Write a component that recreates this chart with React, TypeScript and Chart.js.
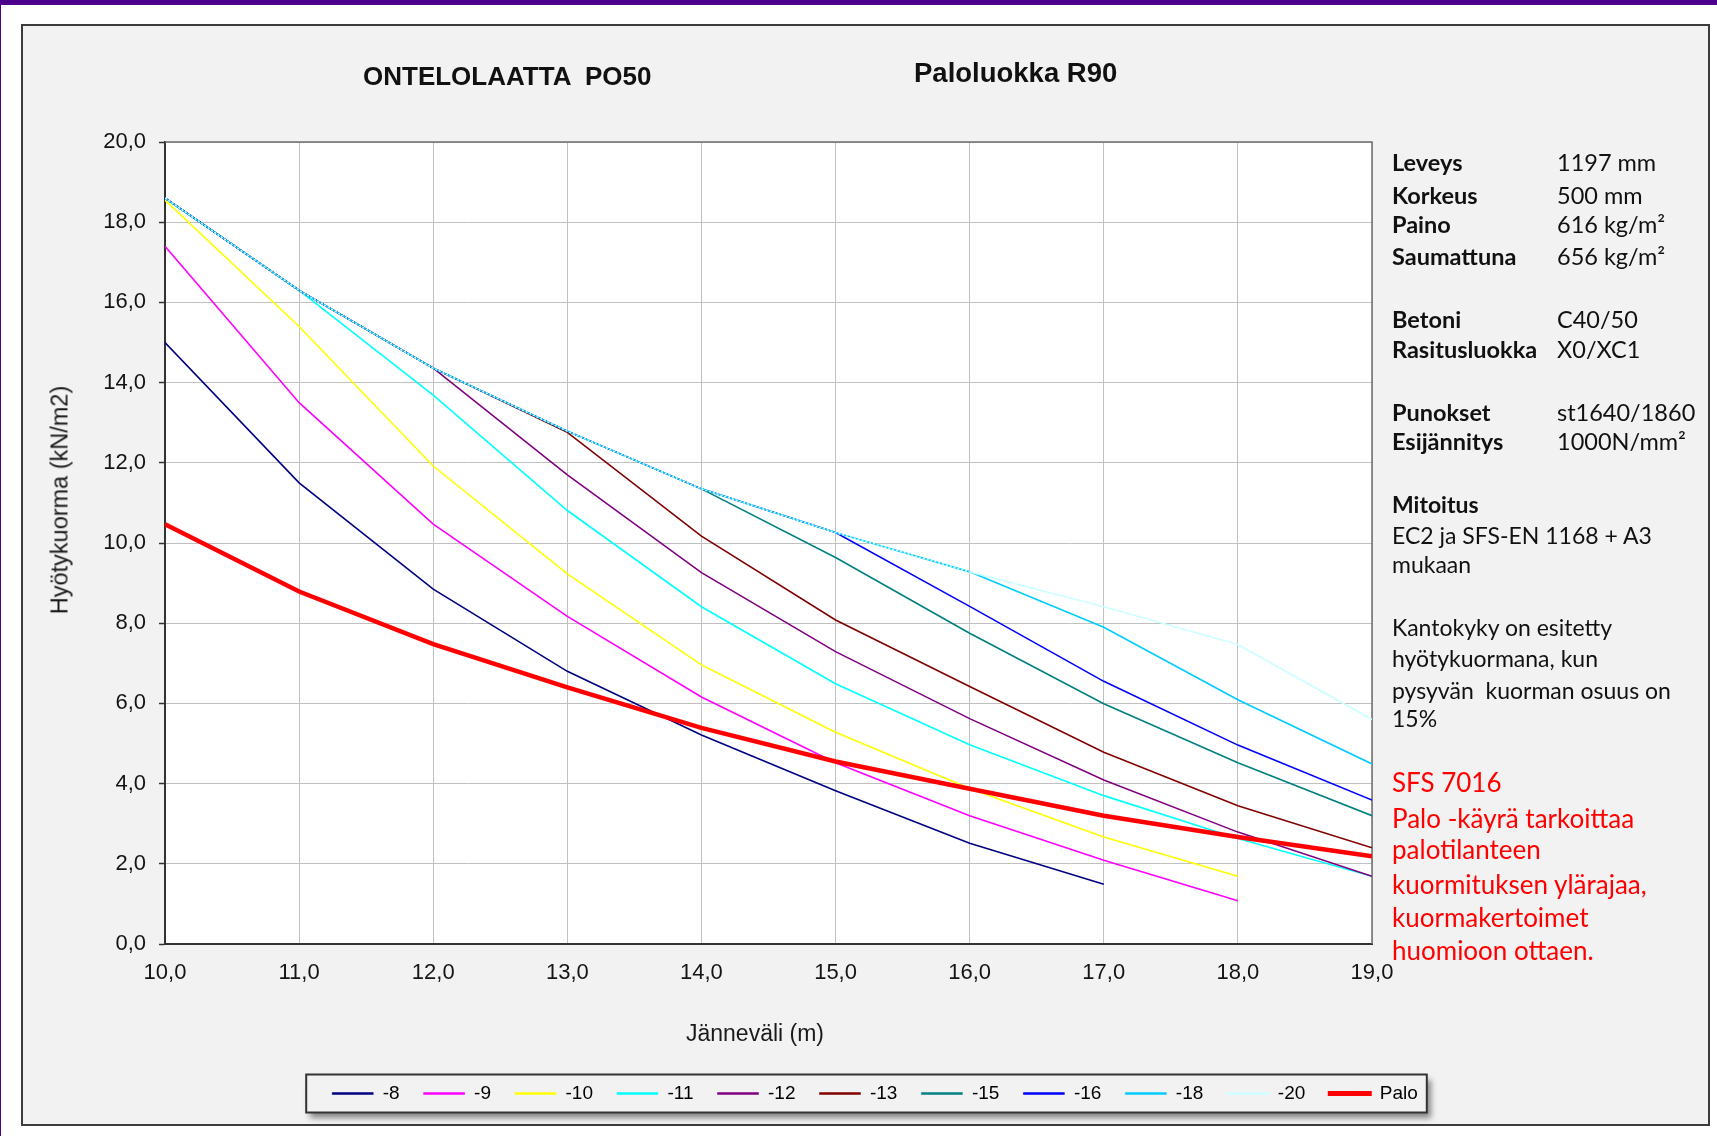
import React, { useEffect, useRef } from "react";
import { Chart, registerables } from "chart.js";

Chart.register(...registerables);

// ---- data ----
const spans = [10, 11, 12, 13, 14, 15, 16, 17, 18, 19];
const seriesLabels = ["-8", "-9", "-10", "-11", "-12", "-13", "-15", "-16", "-18", "-20", "Palo"];
const s8 = [15.0, 11.5, 8.85, 6.8, 5.21, 3.82, 2.51, 1.49, null, null];
const s9 = [17.4, 13.5, 10.47, 8.17, 6.16, 4.52, 3.2, 2.09, 1.08, null];
const s10 = [18.55, 15.4, 11.92, 9.23, 6.96, 5.28, 3.88, 2.67, 1.69, null];
const s11 = [18.6, 16.3, 13.69, 10.81, 8.41, 6.49, 4.97, 3.7, 2.63, 1.69];
const s12 = [18.6, 16.3, 14.36, 11.7, 9.26, 7.29, 5.62, 4.09, 2.79, 1.69];
const s13 = [18.6, 16.3, 14.36, 12.76, 10.17, 8.08, 6.42, 4.78, 3.45, 2.4];
const s15 = [18.6, 16.3, 14.36, 12.79, 11.35, 9.64, 7.75, 5.99, 4.52, 3.2];
const s16 = [18.6, 16.3, 14.36, 12.79, 11.35, 10.26, 8.42, 6.55, 4.96, 3.59];
const s18 = [18.6, 16.3, 14.36, 12.79, 11.35, 10.26, 9.28, 7.9, 6.09, 4.49];
const s20 = [18.6, 16.3, 14.36, 12.79, 11.35, 10.26, 9.28, 8.41, 7.47, 5.6];
const palo = [10.47, 8.79, 7.48, 6.4, 5.39, 4.55, 3.87, 3.2, 2.67, 2.19];
const seriesValues = [s8, s9, s10, s11, s12, s13, s15, s16, s18, s20, palo];
const seriesColors = [
  "#000080", "#ff00ff", "#ffff00", "#00ffff", "#800080", "#800000",
  "#008080", "#0000ff", "#00ccff", "#ccffff", "#ff0000",
];
const yMin = 0, yMax = 20, yStep = 2;
const xMin = 10, xMax = 19, xStep = 1;

const titleLeft = "ONTELOLAATTA  PO50";
const titleRight = "Paloluokka R90";
const xTitle = "Jänneväli (m)";
const yTitle = "Hyötykuorma (kN/m2)";

const specRows: [string, string][] = [
  ["Leveys", "1197 mm"],
  ["Korkeus", "500 mm"],
  ["Paino", "616 kg/m²"],
  ["Saumattuna", "656 kg/m²"],
  ["Betoni", "C40/50"],
  ["Rasitusluokka", "X0/XC1"],
  ["Punokset", "st1640/1860"],
  ["Esijännitys", "1000N/mm²"],
];
const noteLines = [
  "Mitoitus",
  "EC2 ja SFS-EN 1168 + A3",
  "mukaan",
  "Kantokyky on esitetty",
  "hyötykuormana, kun",
  "pysyvän  kuorman osuus on",
  "15%",
];
const redLines = [
  "SFS 7016",
  "Palo -käyrä tarkoittaa",
  "palotilanteen",
  "kuormituksen ylärajaa,",
  "kuormakertoimet",
  "huomioon ottaen.",
];

// ---- layout (pixels) ----
const W = 1717, H = 1136;
const PLOT_TOP = 142, PLOT_LEFT = 165, PLOT_RIGHT = 1372, PLOT_BOTTOM = 944;
const PAD_LEFT = 33, PAD_BOTTOM = 23;
const LEGEND_FONT = 19, LEGEND_PAD = 24;
const specY = [163, 196, 225, 257, 320, 350, 413, 442];
const noteY = [505, 536, 565, 628, 659, 691, 719];
const redY = [783, 819, 850, 885, 918, 951];

const fmt = (v: number) => v.toFixed(1).replace(".", ",");

const decorPlugin = {
  id: "decor",
  beforeDraw(chart: any) {
    const { ctx, chartArea: a } = chart;
    ctx.save();
    ctx.fillStyle = "#ffffff";
    ctx.fillRect(a.left, a.top, a.right - a.left, a.bottom - a.top);
    const lg = chart.legend;
    if (lg && lg.lineWidths && lg.lineWidths.length) {
      const lw = lg.lineWidths[0];
      const start = (lg.left + LEGEND_PAD + lg.right - lw) / 2;
      const end = start + lw - LEGEND_PAD;
      const cy = lg.top + LEGEND_PAD + LEGEND_FONT / 2;
      const x0 = start - 26, x1 = end + 9, y0 = cy - 19, y1 = cy + 19;
      ctx.shadowColor = "rgba(0,0,0,0.45)";
      ctx.shadowBlur = 6;
      ctx.shadowOffsetX = 4;
      ctx.shadowOffsetY = 5;
      ctx.fillStyle = "#f2f2f2";
      ctx.fillRect(x0, y0, x1 - x0, y1 - y0);
      ctx.shadowColor = "transparent";
      ctx.strokeStyle = "#333333";
      ctx.lineWidth = 2;
      ctx.strokeRect(x0, y0, x1 - x0, y1 - y0);
    }
    ctx.restore();
  },
  beforeDatasetsDraw(chart: any) {
    const { ctx, chartArea: a } = chart;
    ctx.save();
    ctx.strokeStyle = "#6e6e6e";
    ctx.lineWidth = 1.5;
    ctx.beginPath();
    ctx.moveTo(a.left, a.top);
    ctx.lineTo(a.right, a.top);
    ctx.lineTo(a.right, a.bottom);
    ctx.stroke();
    ctx.restore();
  },
};

export default function App() {
  const ref = useRef<HTMLCanvasElement | null>(null);

  useEffect(() => {
    if (!ref.current) return;
    const n = seriesLabels.length;
    const datasets = seriesLabels.map((label, i) => {
      const vals = seriesValues[i];
      const isPalo = label === "Palo";
      const is20 = label === "-20";
      return {
        label,
        data: spans
          .map((x, j) => ({ x, y: vals[j] }))
          .filter((p) => p.y !== null),
        borderColor: seriesColors[i],
        backgroundColor: seriesColors[i],
        borderWidth: isPalo ? 4.5 : 1.6,
        pointRadius: 0,
        tension: 0,
        fill: false,
        order: isPalo ? 0 : n - 1 - i,
        segment: is20
          ? { borderDash: (c: any) => (c.p0DataIndex < 6 ? [2, 2] : undefined) }
          : undefined,
      };
    });

    const chart = new Chart(ref.current, {
      type: "line",
      data: { datasets: datasets as any },
      plugins: [decorPlugin],
      options: {
        animation: false,
        responsive: false,
        devicePixelRatio: 1,
        events: [],
        layout: { padding: { top: PLOT_TOP, left: PAD_LEFT, right: 0, bottom: PAD_BOTTOM } },
        plugins: {
          tooltip: { enabled: false },
          title: { display: false },
          legend: {
            display: true,
            position: "bottom",
            labels: {
              boxWidth: 41,
              boxHeight: 2,
              padding: LEGEND_PAD,
              color: "#111111",
              font: { family: "'Liberation Sans', Arial, sans-serif", size: LEGEND_FONT },
              generateLabels: (c: any) =>
                c.data.datasets.map((ds: any, i: number) => ({
                  text: ds.label,
                  fillStyle: ds.borderColor,
                  strokeStyle: ds.borderColor,
                  lineWidth: ds.label === "Palo" ? 3 : 0.5,
                  hidden: false,
                  datasetIndex: i,
                })),
            },
          },
        },
        scales: {
          x: {
            type: "linear",
            min: xMin,
            max: xMax,
            ticks: {
              stepSize: xStep,
              padding: 16,
              color: "#141414",
              font: { family: "'Liberation Sans', Arial, sans-serif", size: 22 },
              callback: (v: any) => fmt(Number(v)),
              maxRotation: 0,
            },
            grid: { color: "#c0c0c0", lineWidth: 1, drawTicks: false },
            border: { display: true, color: "#333333", width: 2 },
            afterFit: (s: any) => {
              const lh = s.chart.legend ? s.chart.legend.height : 0;
              s.height = H - PAD_BOTTOM - lh - PLOT_BOTTOM;
            },
          },
          y: {
            type: "linear",
            position: "left",
            min: yMin,
            max: yMax,
            ticks: {
              stepSize: yStep,
              padding: 13,
              color: "#141414",
              font: { family: "'Liberation Sans', Arial, sans-serif", size: 22 },
              callback: (v: any) => fmt(Number(v)),
            },
            grid: {
              color: "#c0c0c0",
              lineWidth: 1,
              drawTicks: true,
              tickLength: 6,
              tickColor: "#333333",
              tickWidth: 1.5,
            },
            border: { display: true, color: "#333333", width: 2 },
            afterFit: (s: any) => {
              s.width = PLOT_LEFT - PAD_LEFT;
            },
          },
          side: {
            type: "linear",
            position: "right",
            display: true,
            ticks: { display: false },
            grid: { display: false },
            border: { display: false },
            afterFit: (s: any) => {
              s.width = W - PLOT_RIGHT;
            },
          },
        },
      } as any,
    });
    return () => chart.destroy();
  }, []);

  const abs = (extra: React.CSSProperties): React.CSSProperties => ({
    position: "absolute",
    whiteSpace: "pre",
    ...extra,
  });
  const panelFont = "Lato, 'Noto Sans', sans-serif";

  return (
    <div
      style={{
        position: "absolute",
        left: 0,
        top: 0,
        width: W,
        height: H,
        overflow: "hidden",
        background: "#ffffff",
      }}
    >
      <div style={abs({ left: 0, top: 0, width: W, height: 5, background: "#4d008c" })} />
      <div style={abs({ left: 0, top: 0, width: 1, height: H, background: "#4d008c" })} />
      <div
        style={abs({
          left: 21,
          top: 24,
          width: 1689,
          height: 1102,
          boxSizing: "border-box",
          border: "2px solid #3c3c3c",
          background: "#f2f2f2",
        })}
      />
      <canvas
        ref={ref}
        width={W}
        height={H}
        style={{ position: "absolute", left: 0, top: 0, width: W, height: H }}
      />
      <div
        style={abs({
          left: 363,
          top: 77 - 16,
          lineHeight: "32px",
          font: "bold 26px 'Liberation Sans', Arial, sans-serif",
          color: "#111",
        })}
      >
        {titleLeft}
      </div>
      <div
        style={abs({
          left: 914,
          top: 73 - 16,
          lineHeight: "32px",
          font: "bold 27.5px 'Liberation Sans', Arial, sans-serif",
          color: "#111",
        })}
      >
        {titleRight}
      </div>
      <div
        style={abs({
          left: 755,
          top: 1034 - 14,
          lineHeight: "28px",
          transform: "translateX(-50%)",
          font: "23px 'Liberation Sans', Arial, sans-serif",
          color: "#1a1a1a",
        })}
      >
        {xTitle}
      </div>
      <div
        style={abs({
          left: 60,
          top: 500,
          lineHeight: "28px",
          transform: "translate(-50%, -50%) rotate(-90deg)",
          font: "23.5px 'Liberation Sans', Arial, sans-serif",
          color: "#1a1a1a",
        })}
      >
        {yTitle}
      </div>
      {specRows.map(([k, v], i) => (
        <React.Fragment key={k}>
          <div
            style={abs({
              left: 1392,
              top: specY[i] - 15,
              lineHeight: "30px",
              font: `bold 23.5px ${panelFont}`,
              color: "#111",
            })}
          >
            {k}
          </div>
          <div
            style={abs({
              left: 1557,
              top: specY[i] - 15,
              lineHeight: "30px",
              font: `23.5px ${panelFont}`,
              color: "#111",
            })}
          >
            {v}
          </div>
        </React.Fragment>
      ))}
      {noteLines.map((t, i) => (
        <div
          key={t}
          style={abs({
            left: 1392,
            top: noteY[i] - 15,
            lineHeight: "30px",
            font: `${i === 0 ? "bold " : ""}23px ${panelFont}`,
            color: "#111",
          })}
        >
          {t}
        </div>
      ))}
      {redLines.map((t, i) => (
        <div
          key={t}
          style={abs({
            left: 1392,
            top: redY[i] - 17,
            lineHeight: "34px",
            font: `26px ${panelFont}`,
            color: "#ff0000",
          })}
        >
          {t}
        </div>
      ))}
    </div>
  );
}
